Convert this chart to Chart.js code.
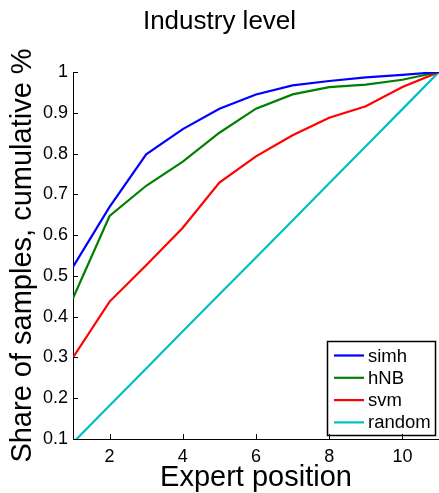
<!DOCTYPE html>
<html>
<head>
<meta charset="utf-8">
<script src="https://cdn.jsdelivr.net/npm/chart.js@4/dist/chart.umd.min.js"></script>
<style>
  html, body { margin: 0; padding: 0; background: #fff; }
  #wrap { width: 439px; height: 493px; }
</style>
</head>
<body>
<div id="wrap"><canvas id="c" width="439" height="493"></canvas></div>
<script>
const positions = [1, 2, 3, 4, 5, 6, 7, 8, 9, 10, 11];
const seriesNames = ['simh', 'hNB', 'svm', 'random'];
const simh   = [0.522, 0.669, 0.798, 0.860, 0.910, 0.945, 0.967, 0.978, 0.987, 0.993, 1.0];
const hNB    = [0.445, 0.647, 0.721, 0.780, 0.851, 0.910, 0.945, 0.963, 0.969, 0.981, 1.0];
const svm    = [0.300, 0.437, 0.526, 0.618, 0.729, 0.793, 0.845, 0.888, 0.916, 0.963, 1.0];
const random = [0.091, 0.182, 0.273, 0.364, 0.455, 0.545, 0.636, 0.727, 0.818, 0.909, 1.0];
const colors = ['#0000ff', '#008000', '#ff0000', '#00bfbf'];
const xTickValues = [2, 4, 6, 8, 10];
const titleText = 'Industry level';
const xTitle = 'Expert position';
const yTitle = 'Share of samples, cumulative %';

const FONT = '"Liberation Sans", Arial, Helvetica, sans-serif';
const allSeries = [simh, hNB, svm, random];

const overlay = {
  id: 'overlay',
  afterDraw(chart) {
    const {ctx, chartArea: a, scales: {x, y}} = chart;
    ctx.save();
    // legend box
    const bw = 108, bh = 94;
    const bx = a.right - 4 - bw, by = a.bottom - 4 - bh;
    ctx.fillStyle = '#fff';
    ctx.fillRect(bx, by, bw, bh);
    ctx.strokeStyle = '#000';
    ctx.lineWidth = 1.5;
    ctx.strokeRect(bx + 0.5, by + 0.5, bw, bh);
    ctx.font = '18.5px ' + FONT;
    ctx.textBaseline = 'middle';
    ctx.textAlign = 'left';
    seriesNames.forEach((n, i) => {
      const cy = by + 14.5 + i * 22.3;
      ctx.strokeStyle = colors[i];
      ctx.lineWidth = 2.2;
      ctx.beginPath(); ctx.moveTo(bx + 7, cy); ctx.lineTo(bx + 37, cy); ctx.stroke();
      ctx.fillStyle = '#000';
      ctx.fillText(n, bx + 41, cy + 1);
    });
    // inward ticks
    ctx.strokeStyle = '#000';
    ctx.lineWidth = 1;
    y.ticks.forEach(t => {
      const py = Math.round(y.getPixelForValue(t.value)) + 0.5;
      ctx.beginPath(); ctx.moveTo(a.left, py); ctx.lineTo(a.left + 5, py); ctx.stroke();
    });
    x.ticks.forEach(t => {
      const px = Math.round(x.getPixelForValue(t.value)) + 0.5;
      ctx.beginPath(); ctx.moveTo(px, a.bottom); ctx.lineTo(px, a.bottom - 5); ctx.stroke();
    });
    ctx.restore();
  }
};

new Chart(document.getElementById('c'), {
  type: 'line',
  data: {
    labels: positions,
    datasets: seriesNames.map((n, i) => ({
      label: n,
      data: positions.map((p, j) => ({x: p, y: allSeries[i][j]})),
      borderColor: colors[i],
      backgroundColor: colors[i],
      borderWidth: 2.2,
      pointRadius: 0,
      tension: 0,
      fill: false
    }))
  },
  options: {
    responsive: false,
    animation: false,
    events: [],
    layout: { padding: 0 },
    plugins: {
      legend: { display: false },
      tooltip: { enabled: false },
      title: {
        display: true,
        text: titleText,
        color: '#000',
        font: { family: FONT, size: 26, weight: 'normal', lineHeight: 1 },
        padding: { top: 9, bottom: 37 }
      }
    },
    scales: {
      x: {
        type: 'linear',
        min: 1, max: 11,
        afterFit(s) { s.height = 54; },
        afterBuildTicks(s) { s.ticks = xTickValues.map(v => ({value: v})); },
        grid: { display: false, drawTicks: false },
        border: { display: true, color: '#000', width: 1 },
        ticks: { color: '#000', font: { family: FONT, size: 18 }, padding: 7, maxRotation: 0, autoSkip: false },
        title: { display: true, text: xTitle, color: '#000', font: { family: FONT, size: 29, lineHeight: 1 }, padding: { top: 0, bottom: 1 } }
      },
      y: {
        type: 'linear',
        min: 0.1, max: 1,
        afterFit(s) { s.width = 73; },
        grid: { display: false, drawTicks: false },
        border: { display: true, color: '#000', width: 1 },
        ticks: {
          stepSize: 0.1, color: '#000', font: { family: FONT, size: 18 }, padding: 5,
          callback: v => String(Math.round(v * 10) / 10)
        },
        title: { display: true, text: yTitle, color: '#000', font: { family: FONT, size: 29, lineHeight: 1 }, padding: { top: 8, bottom: 0 } }
      }
    }
  },
  plugins: [overlay]
});
</script>
</body>
</html>
